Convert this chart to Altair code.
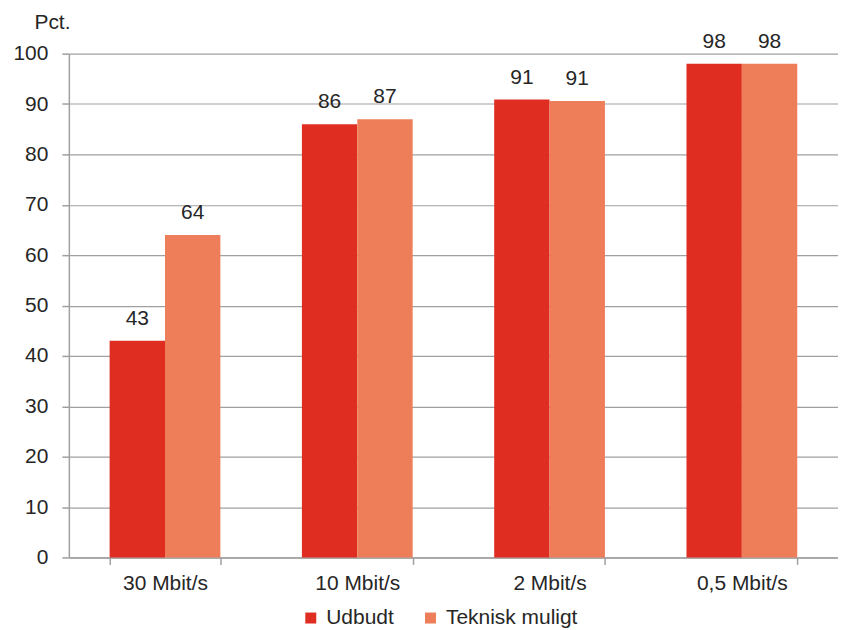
import altair as alt
import pandas as pd

categories = ["30 Mbit/s", "10 Mbit/s", "2 Mbit/s", "0,5 Mbit/s"]
series = ["Udbudt", "Teknisk muligt"]
udbudt = [43, 86, 90.9, 98]
teknisk = [64, 87, 90.6, 98]
labels_udbudt = ["43", "86", "91", "98"]
labels_teknisk = ["64", "87", "91", "98"]
colors = ["#DF2E21", "#EE7E5A"]

rows = []
for c, v, l in zip(categories, udbudt, labels_udbudt):
    rows.append({"cat": c, "serie": series[0], "val": v, "lab": l})
for c, v, l in zip(categories, teknisk, labels_teknisk):
    rows.append({"cat": c, "serie": series[1], "val": v, "lab": l})
df = pd.DataFrame(rows)

FONT = "Liberation Sans"
TXT = "#262626"
GRID = "#A0A0A0"
FS = 21

x = alt.X("cat:N", sort=categories, title=None,
          scale=alt.Scale(paddingInner=0.424, paddingOuter=0.212),
          axis=alt.Axis(labelAngle=0, labelFontSize=FS, labelFont=FONT, labelColor=TXT,
                        labelPadding=8, tickBand="extent", tickSize=7, tickColor=GRID,
                        domainColor=GRID, domainWidth=1.5, tickWidth=1.5))
xo = alt.XOffset("serie:N", sort=series)

bars = alt.Chart(df).mark_bar().encode(
    x=x,
    xOffset=xo,
    y=alt.Y("val:Q", scale=alt.Scale(domain=[0, 100], nice=False),
            axis=alt.Axis(values=list(range(0, 101, 10)), title="Pct.", titleAngle=0,
                          titleAlign="left", titleBaseline="middle", titleX=-35, titleY=-31,
                          titleFont=FONT, titleFontSize=FS, titleFontWeight="normal",
                          titleColor=TXT, labelFontSize=FS, labelFont=FONT, labelColor=TXT,
                          labelPadding=14, tickSize=7, tickColor=GRID, domainColor=GRID,
                          domainWidth=1.5, tickWidth=1.5, gridColor=GRID, gridWidth=1.2,
                          grid=True)),
    color=alt.Color("serie:N", sort=series,
                    scale=alt.Scale(domain=series, range=colors),
                    legend=alt.Legend(title=None, orient="none", legendX=232, legendY=555,
                                      direction="horizontal", symbolType="square",
                                      symbolSize=121, symbolStrokeWidth=0,
                                      labelFontSize=FS, labelFont=FONT, labelColor=TXT,
                                      labelOffset=5, columnPadding=26, padding=0)),
)

text = alt.Chart(df).mark_text(baseline="alphabetic", dy=-16, fontSize=FS, font=FONT,
                               color=TXT).encode(
    x=alt.X("cat:N", sort=categories,
            scale=alt.Scale(paddingInner=0.424, paddingOuter=0.212)),
    xOffset=xo,
    y=alt.Y("val:Q"),
    text="lab:N",
)

chart = (bars + text).properties(
    width=771, height=505,
    autosize=alt.AutoSizeParams(type="none"),
    padding={"left": 61, "top": 45, "right": 0, "bottom": 72},
).configure_view(stroke=None)

chart.save("out.html", embed_options={"renderer": "svg", "actions": False})
